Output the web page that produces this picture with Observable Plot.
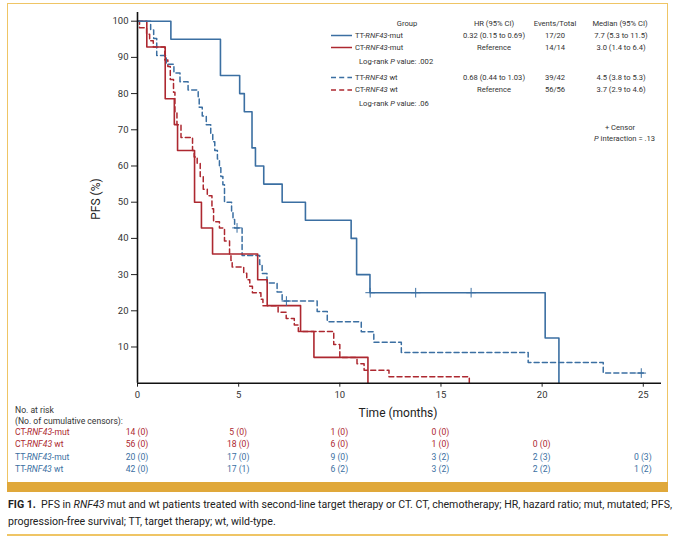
<!DOCTYPE html>
<html><head><meta charset="utf-8">
<script src="https://cdn.jsdelivr.net/npm/d3@7"></script>
<script src="https://cdn.jsdelivr.net/npm/@observablehq/plot@0.6"></script>
<style>
body{margin:0;background:#fff;}
#root{position:relative;width:680px;height:537px;overflow:hidden;font-family:Roboto,"Liberation Sans",sans-serif;color:#333;background:#fff;}
.t{position:absolute;white-space:nowrap;line-height:1;}
</style></head><body><div id="root"></div>
<script>
// ---------- data ----------
const xTicks = [0, 5, 10, 15, 20, 25];
const yTicks = [10, 20, 30, 40, 50, 60, 70, 80, 90, 100];

// TT-RNF43-mut (solid blue)
const ttMutT = [0, 1.65, 4.1, 5.05, 5.28, 5.66, 5.83, 6.24, 7.15, 8.3, 10.56, 10.83, 11.49, 20.15, 20.83];
const ttMutS = [100, 95, 85, 80, 75, 65, 60, 55, 50, 45, 40, 30, 25, 12.5, 0];
const ttMutCensorT = [11.5, 13.75, 16.49];
const ttMutCensorS = [25, 25, 25];

// CT-RNF43-mut (solid red)
const ctMutT = [0, 0.46, 1.37, 1.82, 1.98, 2.82, 3.16, 3.71, 5.94, 6.41, 8.06, 8.72, 11.39];
const ctMutS = [100, 92.86, 78.57, 71.43, 64.29, 50, 42.86, 35.71, 28.57, 21.43, 14.29, 7.14, 0];

// TT-RNF43 wt (dashed blue)
const ttWtT = [0, 0.65, 0.80, 0.95, 1.42, 1.80, 2.10, 2.50, 3.00, 3.05, 3.20, 3.40, 3.62, 3.72, 3.82, 3.95, 4.05, 4.12, 4.22, 4.30, 4.65, 4.72, 4.80, 5.17, 6.04, 6.16, 6.40, 6.90, 7.15, 8.88, 9.38, 11.06, 11.68, 13.04, 19.31, 23.02, 25.05];
const ttWtS = [100, 97.6, 95.2, 90.5, 88.1, 85.7, 83.3, 81.0, 78.6, 76.2, 73.8, 71.4, 69.0, 66.7, 64.3, 61.9, 59.5, 57.1, 54.8, 50.0, 47.6, 45.2, 42.9, 35.3, 32.8, 30.3, 27.7, 25.2, 22.7, 19.8, 17.0, 14.2, 11.3, 8.5, 5.7, 2.8, 2.8];
const ttWtCensorT = [4.92, 7.36, 24.9];
const ttWtCensorS = [42.9, 22.7, 2.8];

// CT-RNF43 wt (dashed red)
const ctWtT = [0, 0.10, 0.45, 0.60, 0.78, 1.35, 1.50, 1.62, 1.78, 1.85, 1.95, 2.15, 2.72, 2.80, 2.95, 3.10, 3.25, 3.45, 3.68, 3.76, 4.05, 4.30, 4.55, 4.62, 4.68, 5.25, 5.40, 5.55, 5.68, 6.10, 6.20, 6.95, 7.35, 7.75, 7.95, 9.70, 10.00, 10.85, 11.20, 12.43, 16.40];
const ctWtS = [100, 98.2, 96.4, 94.6, 92.9, 89.3, 87.5, 83.9, 80.4, 75.0, 71.4, 67.9, 64.3, 62.5, 60.7, 57.1, 53.6, 51.8, 48.2, 44.6, 42.9, 39.3, 35.7, 33.9, 32.1, 30.4, 28.6, 26.8, 25.0, 23.2, 21.4, 19.6, 17.9, 16.1, 14.3, 10.7, 7.1, 5.4, 3.6, 1.8, 0];

// legend table
const legendGroups = ["TT-<i>RNF43</i>-mut", "CT-<i>RNF43</i>-mut", "TT-<i>RNF43</i> wt", "CT-<i>RNF43</i> wt"];
const legendHR = ["0.32 (0.15 to 0.69)", "Reference", "0.68 (0.44 to 1.03)", "Reference"];
const legendEvents = ["17/20", "14/14", "39/42", "56/56"];
const legendMedian = ["7.7 (5.3 to 11.5)", "3.0 (1.4 to 6.4)", "4.5 (3.8 to 5.3)", "3.7 (2.9 to 4.6)"];
const logRank = ["Log-rank <i>P</i> value: .002", "Log-rank <i>P</i> value: .06"];

// risk table
const riskLabels = ["CT-<i>RNF43</i>-mut", "CT-<i>RNF43</i> wt", "TT-<i>RNF43</i>-mut", "TT-<i>RNF43</i> wt"];
const riskCtMut = ["14 (0)", "5 (0)", "1 (0)", "0 (0)", "", ""];
const riskCtWt = ["56 (0)", "18 (0)", "6 (0)", "1 (0)", "0 (0)", ""];
const riskTtMut = ["20 (0)", "17 (0)", "9 (0)", "3 (2)", "2 (3)", "0 (3)"];
const riskTtWt = ["42 (0)", "17 (1)", "6 (2)", "3 (2)", "2 (2)", "1 (2)"];

// ---------- styles ----------
const BLUE = "#3b6fa2", RED = "#ad2830", DASH = "5,3.2";
const FRAME = "#efc565", BAR = "#e0a83a";

const toRows = (T, S) => T.map((t, i) => ({t, s: S[i]}));
const ttMut = toRows(ttMutT, ttMutS), ctMut = toRows(ctMutT, ctMutS);
const ttWt = toRows(ttWtT, ttWtS), ctWt = toRows(ctWtT, ctWtS);
const censTtMut = toRows(ttMutCensorT, ttMutCensorS), censTtWt = toRows(ttWtCensorT, ttWtCensorS);

const root = document.getElementById("root");

// frame
function box(l, t, w, h, css) {
  const d = document.createElement("div");
  d.style.position = "absolute"; d.style.left = l + "px"; d.style.top = t + "px";
  d.style.width = w + "px"; d.style.height = h + "px"; Object.assign(d.style, css);
  root.appendChild(d); return d;
}
box(7, 3, 661, 480, {borderTop: `1px solid ${FRAME}`, borderLeft: `1px solid ${FRAME}`, borderRight: `1px solid ${FRAME}`, boxSizing: "border-box"});
box(7, 482, 661, 10, {background: BAR});
box(7, 534, 661, 1.5, {background: FRAME});

const chart = Plot.plot({
  width: 680, height: 420,
  marginLeft: 137, marginRight: 19, marginTop: 12, marginBottom: 37.3,
  x: {domain: [0, 25.9]},
  y: {domain: [0, 102.4]},
  style: {fontFamily: "Roboto, sans-serif", fontSize: "9.5px", color: "#333", background: "transparent", overflow: "visible"},
  marks: [
    Plot.axisY({ticks: yTicks, tickSize: 6, tickPadding: 3, label: null, stroke: "#222"}),
    Plot.axisX({ticks: xTicks, tickSize: 4, tickPadding: 4, label: null, stroke: "#222"}),
    Plot.line(ctWt, {x: "t", y: "s", curve: "step-after", stroke: RED, strokeWidth: 1.5, strokeDasharray: DASH}),
    Plot.line(ttWt, {x: "t", y: "s", curve: "step-after", stroke: BLUE, strokeWidth: 1.5, strokeDasharray: DASH}),
    Plot.line(ctMut, {x: "t", y: "s", curve: "step-after", stroke: RED, strokeWidth: 1.6}),
    Plot.line(ttMut, {x: "t", y: "s", curve: "step-after", stroke: BLUE, strokeWidth: 1.6}),
    Plot.dot(censTtMut, {x: "t", y: "s", symbol: "plus", r: 3.2, stroke: BLUE, strokeWidth: 1}),
    Plot.dot(censTtWt, {x: "t", y: "s", symbol: "plus", r: 3.2, stroke: BLUE, strokeWidth: 1}),
    Plot.ruleX([0], {stroke: "#111", strokeWidth: 1.6}),
    Plot.ruleY([0], {stroke: "#111", strokeWidth: 1.6})
  ]
});
chart.style.position = "absolute"; chart.style.left = "0"; chart.style.top = "0";
root.appendChild(chart);
const xs = chart.scale("x");

function put(html, x, y, o = {}) {
  const d = document.createElement("div"); d.className = "t"; d.innerHTML = html;
  d.style.left = x + "px"; d.style.top = y + "px";
  d.style.fontSize = (o.size || 9) + "px"; d.style.color = o.color || "#333";
  d.style.fontWeight = o.weight || 400;
  const tx = o.align === "center" ? "-50%" : o.align === "right" ? "-100%" : "0";
  d.style.transform = `translate(${tx},-50%)` + (o.rot ? ` rotate(${o.rot}deg)` : "");
  root.appendChild(d); return d;
}

// axis titles
put("PFS (%)", 96, 199, {align: "center", size: 12, color: "#222", rot: -90});
put("Time (months)", 398, 413, {align: "center", size: 12, color: "#222"});

// legend
const LS = 7.6;
put("Group", 407, 24, {align: "center", size: LS});
put("HR (95% CI)", 494, 24, {align: "center", size: LS});
put("Events/Total", 555, 24, {align: "center", size: LS});
put("Median (95% CI)", 620, 24, {align: "center", size: LS});
const rowY = [35.5, 47.5, 77.5, 90];
const lg = d3.select(root).append("svg").attr("width", 680).attr("height", 140)
  .style("position", "absolute").style("left", 0).style("top", 0);
const lcol = [BLUE, RED, BLUE, RED], ldash = [null, null, DASH, DASH];
rowY.forEach((y, i) => {
  lg.append("line").attr("x1", 331).attr("x2", 352).attr("y1", y).attr("y2", y)
    .attr("stroke", lcol[i]).attr("stroke-width", 1.5).attr("stroke-dasharray", ldash[i]);
  put(legendGroups[i], 355, y, {size: LS});
  put(legendHR[i], 494, y, {align: "center", size: LS});
  put(legendEvents[i], 555, y, {align: "center", size: LS});
  put(legendMedian[i], 621, y, {align: "center", size: LS});
});
put(logRank[0], 359, 62, {size: LS});
put(logRank[1], 359, 104, {size: LS});
put("+ Censor", 620, 127.5, {align: "center", size: LS});
put("<i>P</i> interaction = .13", 655, 138.5, {align: "right", size: LS});

// risk table
put("No. at risk", 15, 409.5, {size: 8.6});
put("(No. of cumulative censors):", 15, 420.5, {size: 8.6});
const riskRows = [riskCtMut, riskCtWt, riskTtMut, riskTtWt];
const riskCol = [RED, RED, BLUE, BLUE];
const riskY = [432, 444, 456.5, 468.5];
riskRows.forEach((row, i) => {
  put(riskLabels[i], 15, riskY[i], {size: 8.6, color: riskCol[i]});
  row.forEach((v, j) => { if (v) put(v, xs.apply(xTicks[j]), riskY[i], {align: "center", size: 8.6, color: riskCol[i]}); });
});

// caption
const c1 = put("<b>FIG 1.</b>&nbsp; PFS in <i>RNF43</i> mut and wt patients treated with second-line target therapy or CT. CT, chemotherapy; HR, hazard ratio; mut, mutated; PFS,", 8, 505, {size: 11.2, color: "#222"});
const c2 = put("progression-free survival; TT, target therapy; wt, wild-type.", 8, 522, {size: 11.2, color: "#222"});
const w1 = c1.getBoundingClientRect().width;
const sc = 664 / w1;
[c1, c2].forEach(c => { c.style.transformOrigin = "left center"; c.style.transform = `translate(0,-50%) scaleX(${sc})`; });
</script></body></html>
